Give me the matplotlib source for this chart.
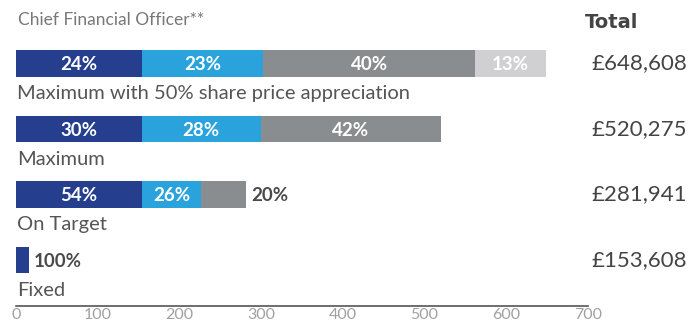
import matplotlib
matplotlib.use("Agg")
import matplotlib.pyplot as plt
import matplotlib.transforms as mtransforms

plt.rcParams['font.family'] = ['Lato', 'DejaVu Sans']

# ---- data ----
categories = ["Maximum with 50% share price appreciation", "Maximum", "On Target", "Fixed"]
totals = ["£648,608", "£520,275", "£281,941", "£153,608"]
segments = ["Fixed pay", "Annual bonus", "LTIP", "Share price appreciation"]
# segment values (£000), one list per bar
values = [
    [153.6, 149.2, 259.4, 86.4],
    [153.6, 146.0, 220.7],
    [153.6, 73.0, 55.3],
    [15.4],
]
pct_labels = [
    ["24%", "23%", "40%", "13%"],
    ["30%", "28%", "42%"],
    ["54%", "26%", "20%"],
    ["100%"],
]
outside = [
    [False, False, False, False],
    [False, False, False],
    [False, False, True],
    [True],
]
xticks = [0, 100, 200, 300, 400, 500, 600, 700]
colors = ["#253f8e", "#2aa3dc", "#8a8d90", "#d0d0d2"]

fig = plt.figure(figsize=(6.9, 3.24), dpi=100)
ax = fig.add_axes([16/690, 1 - 305.7/324, (588-16)/690, 305.7/324])

bar_h = 0.41
for i, vals in enumerate(values):
    left = 0
    for j, v in enumerate(vals):
        ax.barh(i, v, left=left, height=bar_h, color=colors[j], edgecolor='none')
        if outside[i][j]:
            ax.annotate(pct_labels[i][j], xy=(left + v, i), xytext=(3.5, 0),
                        textcoords='offset points', ha='left', va='center_baseline',
                        color='#4a4a4a', fontsize=13.5, fontweight='bold')
        else:
            ax.text(left + v/2, i, pct_labels[i][j], ha='center', va='center_baseline',
                    color='white', fontsize=13.5, fontweight='bold')
        left += v
    ax.text(1, i + 0.545, categories[i], ha='left', va='baseline',
            color='#555555', fontsize=14.5)

trans = mtransforms.blended_transform_factory(fig.transFigure, ax.transData)
for i, t in enumerate(totals):
    ax.text(591/690, i + 0.09, t, transform=trans, ha='left', va='baseline',
            color='#444444', fontsize=16)

fig.text(585/690, 1 - 28.3/324, "Total", ha='left', va='baseline',
         color='#444444', fontsize=14, fontweight='bold', family='DejaVu Sans')
fig.text(18/690, 1 - 25/324, "Chief Financial Officer**", ha='left', va='baseline',
         color='#777777', fontsize=12.5)

ax.set_xlim(0, 700)
ax.set_ylim(3.698, -0.969)
ax.set_xticks(xticks)
ax.set_xticklabels([str(x) for x in xticks])
ax.tick_params(axis='x', length=0, pad=1.5, labelsize=11.5, labelcolor='#a0a0a0')
ax.set_yticks([])
for s in ['top', 'right', 'left']:
    ax.spines[s].set_visible(False)
ax.spines['bottom'].set_color('#555555')
ax.spines['bottom'].set_linewidth(1.2)
ax.patch.set_visible(False)

fig.savefig("out.png", dpi=100)
